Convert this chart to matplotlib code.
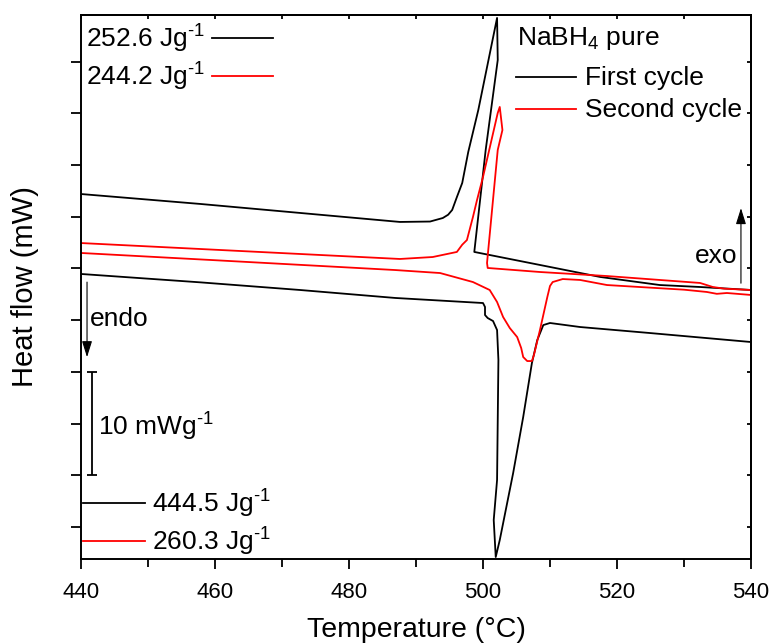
import matplotlib
matplotlib.use("Agg")
import matplotlib.pyplot as plt
import numpy as np

plt.rcParams['font.family'] = ['Liberation Sans', 'DejaVu Sans']
plt.rcParams['mathtext.fontset'] = 'custom'
plt.rcParams['mathtext.rm'] = 'Liberation Sans'
plt.rcParams['mathtext.it'] = 'Liberation Sans:italic'
plt.rcParams['mathtext.default'] = 'regular'

# ---- data (temperature in deg C, heat flow in mW/g, arbitrary offset) ----
first_cool_T = [540.0, 532.4, 526.4, 517.5, 508.5, 498.7, 500.4, 502.2, 502.1,
                499.3, 497.8, 496.9, 496.1, 495.4, 494.8, 494.0, 492.1, 487.6, 472.7,
                457.8, 440.0]
first_cool_Q = [22.92, 23.21, 23.40, 24.18, 25.34, 26.60, 36.46, 45.16, 49.23,
                40.33, 36.27, 33.27, 31.90, 30.66, 30.20, 29.88, 29.54, 29.50, 30.37,
                31.24, 32.20]

first_heat_T = [440.0, 457.8, 472.7, 486.9, 500.0, 500.3, 500.3, 500.7, 501.5, 502.1,
                502.3, 502.2, 502.1, 501.6, 501.9, 502.5, 504.5, 506.0, 507.3, 508.1,
                509.0, 510.0, 514.5, 524.9, 540.0]
first_heat_Q = [24.47, 23.66, 22.92, 22.15, 21.66, 21.28, 20.50, 20.21, 19.92, 19.05,
                16.15, 10.35, 4.55, 0.68, -2.90, -1.26, 5.22, 10.64, 15.86, 18.08,
                19.53, 19.73, 19.34, 18.76, 17.89]

second_heat_T = [440.0, 460.0, 486.9, 493.6, 498.5, 501.0, 502.1, 503.0, 504.0, 505.1,
                 505.7, 506.0, 506.6, 507.3, 507.6, 508.5, 509.1, 509.6, 510.0, 510.4,
                 511.9, 514.5, 518.5, 530.0, 533.4, 534.9, 536.4, 540.0]
second_heat_Q = [26.50, 25.80, 24.85, 24.56, 23.69, 22.92, 21.76, 20.31, 19.24, 18.37,
                 17.31, 16.44, 16.05, 16.05, 16.63, 19.05, 20.79, 22.24, 23.31, 23.69,
                 23.98, 23.89, 23.40, 22.95, 22.73, 22.55, 22.63, 22.44]

second_cool_T = [540.0, 536.0, 534.3, 532.4, 518.5, 508.5, 500.7, 500.6, 502.2, 502.9,
                 502.5, 502.2, 500.0, 499.1, 498.5, 497.6, 496.9, 496.1, 492.5, 487.6,
                 440.0]
second_cool_Q = [22.92, 23.05, 23.21, 23.60, 24.27, 24.66, 25.05, 25.53, 36.46, 38.39,
                 40.62, 40.04, 33.85, 31.60, 29.98, 27.75, 27.30, 26.60, 26.11, 25.92,
                 27.46]

first_labels = ["252.6 Jg$^{\\text{-}1}$", "444.5 Jg$^{\\text{-}1}$"]
second_labels = ["244.2 Jg$^{\\text{-}1}$", "260.3 Jg$^{\\text{-}1}$"]
legend_title = "NaBH$_4$ pure"
series_names = ["First cycle", "Second cycle"]
scale_label = "10 mWg$^{\\text{-}1}$"
scale_bar = (441.6, 5.0, 15.0)   # x, y0, y1  -> 10 mW/g

BLACK = '#000000'
RED = '#ff0000'

fig = plt.figure(figsize=(7.72, 6.43), dpi=100)
ax = fig.add_axes([81/772, 1-559/643, 670/772, 544/643])

lw = 1.3
ax.plot(first_cool_T, first_cool_Q, color=BLACK, lw=lw, solid_joinstyle='round')
ax.plot(first_heat_T, first_heat_Q, color=BLACK, lw=lw, solid_joinstyle='round')
ax.plot(second_cool_T, second_cool_Q, color=RED, lw=lw, solid_joinstyle='round')
ax.plot(second_heat_T, second_heat_Q, color=RED, lw=lw, solid_joinstyle='round')

ax.set_xlim(440, 540)
ax.set_ylim(-3.09, 49.51)
ax.set_xticks(np.arange(440, 541, 20))
ax.set_xticks(np.arange(450, 540, 20), minor=True)
ax.set_yticks(np.arange(0, 46, 5))
ax.set_yticklabels([])

for s in ax.spines.values():
    s.set_linewidth(1.4)

ax.tick_params(axis='x', which='major', direction='out', length=7.5, width=1.3,
               labelsize=16, pad=9)
ax.tick_params(axis='x', which='minor', direction='out', length=5.5, width=1.3)
ax.tick_params(axis='y', which='major', direction='out', length=7.5, width=1.3)

# top / right inward ticks
sec_top = ax.secondary_xaxis('top')
sec_top.set_xticks(np.arange(440, 541, 10))
sec_top.tick_params(direction='in', length=3, width=1.3, labeltop=False)
sec_top.spines['top'].set_linewidth(1.4)
sec_right = ax.secondary_yaxis('right')
sec_right.set_yticks(np.arange(0, 46, 5))
sec_right.tick_params(direction='in', length=3, width=1.3, labelright=False)
sec_right.spines['right'].set_linewidth(1.4)

ax.set_xlabel("Temperature (°C)", fontsize=20.5, labelpad=10)
ax.set_ylabel("Heat flow (mW)", fontsize=21, labelpad=19)

fs = 19
tA = ax.transAxes
# top-left energy labels
ax.text(0.0075, 0.9393, first_labels[0], transform=tA, fontsize=fs, va='baseline')
ax.plot([0.1955, 0.2866], [0.9577, 0.9577], transform=tA, color=BLACK, lw=lw)
ax.text(0.0075, 0.8695, second_labels[0], transform=tA, fontsize=fs, va='baseline')
ax.plot([0.1955, 0.2866], [0.8879, 0.8879], transform=tA, color=RED, lw=lw)
# bottom-left energy labels
ax.plot([0.003, 0.0955], [0.1029, 0.1029], transform=tA, color=BLACK, lw=lw)
ax.text(0.106, 0.0846, first_labels[1], transform=tA, fontsize=fs, va='baseline')
ax.plot([0.003, 0.0955], [0.0331, 0.0331], transform=tA, color=RED, lw=lw)
ax.text(0.106, 0.0147, second_labels[1], transform=tA, fontsize=fs, va='baseline')
# legend top-right
ax.text(0.6507, 0.9449, legend_title, transform=tA, fontsize=fs, va='baseline')
ax.plot([0.6493, 0.7388], [0.886, 0.886], transform=tA, color=BLACK, lw=lw)
ax.text(0.7522, 0.8713, series_names[0], transform=tA, fontsize=fs, va='baseline')
ax.plot([0.6493, 0.7388], [0.8272, 0.8272], transform=tA, color=RED, lw=lw)
ax.text(0.7522, 0.8125, series_names[1], transform=tA, fontsize=fs, va='baseline')

# endo / exo arrows
arrow_kw = dict(arrowstyle='-|>,head_length=0.7,head_width=0.22', color='black',
                lw=0.8, shrinkA=0, shrinkB=0, mutation_scale=14)
ax.annotate('', xy=(0.009, 0.371), xytext=(0.009, 0.509), xycoords=tA,
            textcoords=tA, arrowprops=arrow_kw)
ax.text(0.0134, 0.4283, "endo", transform=tA, fontsize=fs, va='baseline')
ax.annotate('', xy=(0.985, 0.645), xytext=(0.985, 0.507), xycoords=tA,
            textcoords=tA, arrowprops=arrow_kw)
ax.text(0.9164, 0.5441, "exo", transform=tA, fontsize=fs, va='baseline')

# scale bar
ax.errorbar([scale_bar[0]], [(scale_bar[1]+scale_bar[2])/2],
            yerr=[(scale_bar[2]-scale_bar[1])/2], color=BLACK, lw=1.3,
            capsize=3.5, capthick=1.3)
ax.text(0.0254, 0.2261, scale_label, transform=tA, fontsize=fs, va='baseline')

fig.savefig("out.png", dpi=100)
